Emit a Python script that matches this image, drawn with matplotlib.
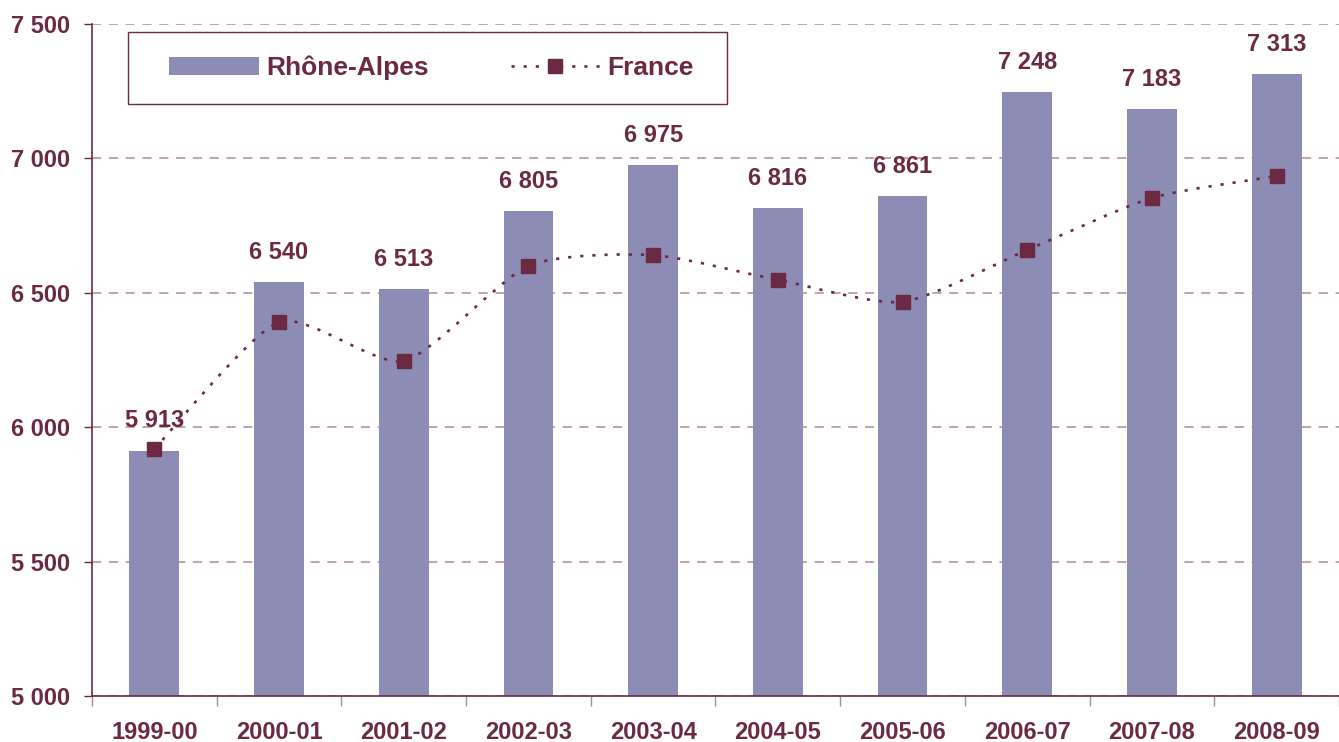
import matplotlib.pyplot as plt
import numpy as np
from matplotlib.path import Path
from matplotlib.patches import PathPatch, Patch, Rectangle
from matplotlib.lines import Line2D

seasons = ["1999-00", "2000-01", "2001-02", "2002-03", "2003-04",
           "2004-05", "2005-06", "2006-07", "2007-08", "2008-09"]
rhone_alpes = [5913, 6540, 6513, 6805, 6975, 6816, 6861, 7248, 7183, 7313]
france = [5919, 6391, 6246, 6600, 6640, 6548, 6466, 6659, 6853, 6934]
y_ticks = [5000, 5500, 6000, 6500, 7000, 7500]

MAROON = "#6B2943"
BAR = "#8C8CB4"
GRID = "#B08A98"
DOTS = (0, (1.2, 3.4))

plt.rcParams["font.family"] = ["Liberation Sans", "DejaVu Sans"]
plt.rcParams["font.weight"] = "bold"


def fmt(v):
    return f"{v:,}".replace(",", " ")


def smooth_path(xs, ys, k=9.0):
    pts = np.column_stack([xs, ys]).astype(float)
    n = len(pts)
    verts = [pts[0]]
    codes = [Path.MOVETO]
    for i in range(n - 1):
        p0 = pts[max(i - 1, 0)]
        p1 = pts[i]
        p2 = pts[i + 1]
        p3 = pts[min(i + 2, n - 1)]
        c1 = p1 + (p2 - p0) / k
        c2 = p2 - (p3 - p1) / k
        verts += [c1, c2, p2]
        codes += [Path.CURVE4] * 3
    return Path(verts, codes)


fig = plt.figure(figsize=(13.39, 7.42), dpi=100)
ax = fig.add_axes([0.0687, 0.062, 0.9313, 0.9058])

x = np.arange(len(seasons))
ax.bar(x, rhone_alpes, width=0.4, color=BAR, zorder=2)

curve = PathPatch(smooth_path(x, france), facecolor="none", edgecolor=MAROON,
                  linewidth=1.9, linestyle=DOTS, zorder=3)
ax.add_patch(curve)
ax.plot(x, france, linestyle="none", marker="s", ms=9.5, color=MAROON, zorder=4)

for xi, v in zip(x, rhone_alpes):
    ax.annotate(fmt(v), (xi, v), xytext=(0, 13), textcoords="offset points",
                ha="center", va="bottom", fontsize=17, fontweight="bold", color=MAROON)

ax.set_xlim(-0.5, len(seasons) - 0.5)
ax.set_ylim(5000, 7500)
ax.set_yticks(y_ticks)
ax.set_yticklabels([fmt(v) for v in y_ticks])
ax.set_xticks(x)
ax.set_xticklabels(seasons)
ax.set_xticks(np.arange(-0.5, len(seasons), 1.0), minor=True)
ax.tick_params(axis="x", which="major", length=0, pad=18, labelsize=17, labelcolor=MAROON)
ax.tick_params(axis="x", which="minor", length=7, width=1, color=GRID, direction="out")
ax.tick_params(axis="y", length=6, width=1, color=MAROON, pad=10, labelsize=17, labelcolor=MAROON)
for lab in ax.get_xticklabels() + ax.get_yticklabels():
    lab.set_fontweight("bold")

ax.yaxis.grid(True, linestyle=(0, (6, 5)), color=GRID, linewidth=1.1)
ax.set_axisbelow(True)
for side in ["top", "right"]:
    ax.spines[side].set_visible(False)
for side in ["left", "bottom"]:
    ax.spines[side].set_color(MAROON)
    ax.spines[side].set_linewidth(1.2)

# legend box drawn separately so its size matches the original
ax.add_patch(Rectangle((0.029, 0.881), 0.480, 0.107, transform=ax.transAxes,
                       facecolor="white", edgecolor=MAROON, linewidth=1.0, zorder=5))
handles = [
    Patch(facecolor=BAR, edgecolor="none"),
    Line2D([0], [0], color=MAROON, linestyle=DOTS, linewidth=1.9,
           marker="s", ms=9.5),
]
leg = ax.legend(handles, ["Rhône-Alpes", "France"], loc="center",
                bbox_to_anchor=(0.2723, 0.9345), ncol=2, frameon=False,
                handlelength=3.4, handleheight=0.72, handletextpad=0.28,
                columnspacing=3.1, borderaxespad=0, borderpad=0,
                prop={"weight": "bold", "size": 19})
leg.set_zorder(6)
for t in leg.get_texts():
    t.set_color(MAROON)

fig.savefig("out.png", dpi=100)
